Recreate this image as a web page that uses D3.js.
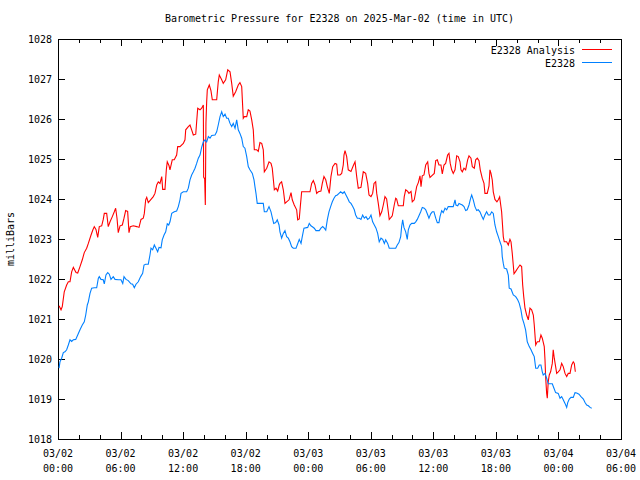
<!DOCTYPE html>
<html><head><meta charset="utf-8">
<script src="https://cdn.jsdelivr.net/npm/d3@7"></script>
<style>
html,body{margin:0;padding:0;background:#fff;}
svg text{font-family:"DejaVu Sans Mono","Liberation Mono",monospace;font-size:10px;fill:#000;}
</style></head><body>
<svg id="chart" width="640" height="480"></svg>
<script>
// ---- data (hours after 2025-03-02 00:00 UTC, pressure in mbar) ----
const titleText = "Barometric Pressure for E2328 on 2025-Mar-02 (time in UTC)";
const yLabel = "milliBars";
const seriesNames = ["E2328 Analysis", "E2328"];
const yTicks = [1018,1019,1020,1021,1022,1023,1024,1025,1026,1027,1028];

const analysisHours = [0.10,0.29,0.41,0.60,0.83,0.99,1.15,1.31,1.47,1.73,1.89,2.11,2.33,2.52,2.75,2.91,3.17,3.33,3.48,3.64,3.81,3.96,4.19,4.34,4.44,4.67,4.82,4.99,5.21,5.40,5.53,5.66,5.78,5.95,6.17,6.33,6.49,6.68,6.81,6.93,7.22,7.55,7.77,7.96,8.18,8.28,8.41,8.51,8.66,8.92,9.14,9.30,9.47,9.62,9.78,9.95,10.04,10.26,10.39,10.48,10.65,10.74,10.96,11.15,11.38,11.48,11.70,12.02,12.18,12.25,12.50,12.66,12.82,12.98,13.21,13.30,13.40,13.62,13.78,13.94,13.97,14.07,14.13,14.19,14.26,14.32,14.51,14.67,14.80,15.22,15.37,15.47,15.70,15.85,16.08,16.28,16.50,16.66,16.81,17.04,17.29,17.45,17.62,17.77,17.87,18.10,18.25,18.41,18.58,18.73,18.83,19.06,19.21,19.37,19.54,19.69,19.79,20.02,20.24,20.43,20.55,20.75,20.91,21.07,21.22,21.29,21.45,21.61,21.77,21.93,22.16,22.35,22.47,22.66,22.89,22.99,23.14,23.24,23.37,23.69,24.17,24.33,24.49,24.65,24.81,24.97,25.22,25.35,25.51,25.68,25.83,26.02,26.18,26.35,26.57,26.73,26.83,27.05,27.21,27.36,27.43,27.53,27.69,27.84,28.10,28.32,28.49,28.65,28.80,29.06,29.28,29.51,29.70,29.83,30.02,30.18,30.31,30.47,30.57,30.72,30.88,31.05,31.20,31.36,31.52,31.68,31.77,31.94,32.06,32.25,32.39,32.48,32.64,33.12,33.21,33.35,33.54,33.66,33.86,33.98,34.17,34.40,34.56,34.72,34.82,34.94,35.10,35.27,35.46,35.58,35.68,35.84,36.09,36.23,36.38,36.54,36.73,36.86,37.02,37.18,37.37,37.50,37.62,37.76,37.91,38.08,38.24,38.39,38.56,38.65,38.78,38.94,39.10,39.29,39.42,39.61,39.74,39.93,40.06,40.22,40.38,40.50,40.69,40.86,40.95,41.17,41.34,41.43,41.53,41.65,41.75,41.91,42.10,42.23,42.36,42.55,42.71,42.80,43.03,43.19,43.35,43.45,43.57,43.74,43.90,44.09,44.31,44.47,44.57,44.67,44.79,44.95,45.11,45.27,45.43,45.59,45.68,45.82,45.97,46.16,46.32,46.45,46.64,46.71,46.77,46.87,46.93,47.02,47.12,47.25,47.41,47.50,47.60,47.73,47.83,47.98,48.15,48.31,48.46,48.63,48.79,48.94,49.11,49.27,49.42,49.52,49.62];
const analysisValues = [1021.33,1021.23,1021.31,1021.68,1021.85,1021.93,1021.93,1022.18,1022.29,1022.16,1022.15,1022.31,1022.48,1022.66,1022.77,1022.89,1023.10,1023.22,1023.31,1023.24,1023.04,1023.31,1023.33,1023.49,1023.64,1023.64,1023.31,1023.43,1023.56,1023.68,1023.77,1023.52,1023.16,1023.33,1023.35,1023.52,1023.71,1023.69,1023.16,1023.31,1023.33,1023.31,1023.29,1023.49,1023.52,1023.64,1023.98,1024.04,1023.91,1023.99,1024.06,1024.14,1024.35,1024.43,1024.39,1024.56,1024.24,1024.24,1024.73,1024.93,1024.83,1024.73,1024.98,1024.98,1025.10,1025.31,1025.31,1025.39,1025.48,1025.73,1025.81,1025.85,1025.73,1025.60,1025.62,1025.93,1026.27,1026.23,1026.27,1026.35,1024.55,1024.50,1023.85,1025.90,1026.43,1026.73,1026.85,1026.71,1026.48,1026.48,1026.93,1027.10,1026.98,1026.89,1026.98,1027.23,1027.18,1026.89,1026.57,1026.68,1026.85,1026.91,1026.81,1026.02,1026.06,1026.06,1026.23,1026.20,1025.98,1025.73,1025.23,1025.23,1025.19,1025.41,1025.39,1025.23,1024.68,1024.77,1024.93,1024.89,1024.77,1024.23,1024.27,1024.20,1024.35,1024.39,1024.43,1024.23,1023.89,1023.93,1023.98,1024.16,1023.98,1023.85,1023.73,1023.48,1023.50,1023.81,1024.18,1024.18,1024.18,1024.39,1024.46,1024.35,1024.14,1024.18,1024.20,1024.39,1024.56,1024.48,1024.31,1024.14,1024.56,1024.81,1024.89,1024.87,1024.60,1024.60,1024.64,1024.85,1025.10,1025.21,1025.06,1024.73,1024.69,1024.83,1024.93,1024.56,1024.27,1024.29,1024.68,1024.64,1024.39,1024.10,1024.06,1024.14,1024.39,1024.43,1024.14,1023.89,1023.58,1023.68,1023.85,1024.06,1024.00,1023.68,1023.49,1023.54,1023.58,1023.85,1024.02,1024.00,1023.83,1023.83,1024.06,1024.23,1024.19,1024.14,1024.19,1023.93,1023.98,1024.31,1024.41,1024.58,1024.31,1024.58,1024.60,1024.85,1024.93,1024.64,1024.54,1024.58,1024.64,1024.96,1024.98,1024.85,1024.85,1024.63,1024.85,1024.89,1025.10,1025.14,1024.89,1024.73,1024.64,1024.73,1025.08,1025.06,1024.93,1024.73,1024.68,1024.77,1024.73,1024.98,1025.08,1025.02,1024.81,1024.77,1024.98,1025.02,1024.96,1024.73,1024.52,1024.39,1024.14,1024.14,1024.33,1024.73,1024.64,1024.48,1024.18,1023.99,1023.93,1023.98,1024.05,1023.68,1023.06,1022.93,1022.93,1022.85,1022.99,1022.93,1022.64,1022.13,1022.19,1022.27,1022.35,1022.31,1021.85,1021.56,1021.27,1021.10,1020.98,1021.27,1021.23,1021.10,1020.85,1020.35,1020.43,1020.43,1020.60,1020.52,1020.31,1019.98,1019.56,1019.14,1019.02,1019.43,1019.60,1019.68,1019.89,1020.23,1020.02,1019.81,1019.64,1019.68,1019.73,1019.89,1019.81,1019.64,1019.56,1019.64,1019.64,1019.85,1019.93,1019.89,1019.68];

const stationHours = [0.10,0.19,0.35,0.51,0.67,0.83,0.99,1.15,1.31,1.47,1.70,1.89,2.11,2.33,2.52,2.66,2.81,2.91,3.07,3.23,3.48,3.71,3.87,3.96,4.12,4.34,4.44,4.60,4.77,4.92,5.08,5.30,5.47,5.78,6.04,6.21,6.33,6.52,6.74,7.00,7.16,7.32,7.48,7.70,7.93,8.12,8.25,8.41,8.66,8.82,8.92,9.08,9.24,9.40,9.56,9.69,9.88,10.00,10.17,10.33,10.48,10.62,10.74,10.91,11.15,11.38,11.54,11.70,11.80,12.02,12.34,12.50,12.66,12.82,12.98,13.14,13.30,13.46,13.62,13.78,13.94,14.10,14.26,14.42,14.58,14.74,15.06,15.22,15.37,15.54,15.70,15.85,16.02,16.18,16.33,16.50,16.66,16.81,16.98,17.14,17.29,17.45,17.62,17.77,17.93,18.10,18.25,18.41,18.64,18.80,18.89,18.99,19.11,19.69,19.79,20.02,20.24,20.43,20.55,20.69,20.88,21.03,21.20,21.29,21.45,21.61,21.77,21.93,22.09,22.25,22.41,22.57,22.83,22.99,23.14,23.31,23.43,23.59,23.95,24.10,24.26,24.43,24.58,24.74,25.06,25.22,25.39,25.54,25.68,25.83,25.99,26.15,26.31,26.47,26.63,26.79,26.95,27.11,27.31,27.46,27.62,27.78,27.94,28.10,28.27,28.42,28.55,28.71,28.90,29.06,29.22,29.38,29.54,29.70,29.86,30.02,30.18,30.34,30.50,30.66,30.81,30.98,31.14,31.30,31.43,31.62,31.77,31.84,32.16,32.39,32.54,32.70,32.87,32.96,33.06,33.18,33.35,33.50,33.60,33.76,33.92,34.17,34.31,34.46,34.62,34.79,34.94,35.13,35.27,35.42,35.58,35.75,35.90,36.06,36.23,36.38,36.54,36.64,36.80,36.95,37.12,37.28,37.43,37.91,38.08,38.17,38.34,38.46,38.62,38.78,38.94,39.10,39.25,39.42,39.58,39.68,39.83,39.99,40.16,40.31,40.47,40.63,40.79,40.95,41.11,41.27,41.43,41.60,41.75,41.91,42.07,42.23,42.39,42.55,42.61,42.71,42.80,43.03,43.19,43.28,43.45,43.67,43.90,44.09,44.24,44.40,44.53,44.69,44.85,45.01,45.20,45.37,45.53,45.68,45.82,46.01,46.16,46.32,46.45,46.54,46.71,46.87,47.02,47.41,47.57,47.73,47.98,48.15,48.31,48.46,48.63,48.79,48.89,49.04,49.20,49.42,49.59,49.75,49.97,50.16,50.39,50.55,50.71,50.87,51.03,51.19];
const stationValues = [1019.77,1019.93,1020.02,1020.16,1020.18,1020.23,1020.35,1020.48,1020.44,1020.48,1020.49,1020.60,1020.73,1020.85,1020.93,1021.10,1021.35,1021.43,1021.64,1021.77,1021.78,1021.78,1022.02,1022.06,1021.99,1021.98,1021.88,1022.10,1022.16,1022.12,1021.99,1022.06,1021.99,1021.98,1021.98,1021.89,1022.06,1021.99,1021.96,1021.88,1021.87,1021.78,1021.87,1021.93,1022.06,1022.14,1022.35,1022.37,1022.37,1022.60,1022.77,1022.73,1022.85,1022.77,1022.68,1022.79,1022.78,1022.98,1023.10,1023.18,1023.38,1023.35,1023.43,1023.64,1023.68,1023.70,1023.81,1023.98,1024.14,1024.18,1024.18,1024.27,1024.48,1024.60,1024.68,1024.77,1024.89,1025.02,1025.10,1025.29,1025.43,1025.48,1025.43,1025.56,1025.52,1025.59,1025.60,1025.68,1025.85,1026.06,1026.18,1026.06,1026.12,1026.02,1026.02,1025.89,1025.81,1025.89,1025.77,1025.98,1025.73,1025.64,1025.52,1025.31,1025.27,1025.06,1024.81,1024.73,1024.64,1024.48,1024.31,1024.14,1023.89,1023.89,1023.68,1023.68,1023.81,1023.68,1023.54,1023.39,1023.41,1023.48,1023.35,1023.18,1023.02,1023.14,1023.21,1023.06,1023.02,1022.93,1022.81,1022.77,1022.77,1022.88,1022.99,1022.89,1023.06,1023.27,1023.29,1023.39,1023.33,1023.30,1023.27,1023.21,1023.21,1023.27,1023.31,1023.27,1023.22,1023.48,1023.68,1023.81,1023.93,1024.02,1024.08,1024.10,1024.14,1024.18,1024.14,1024.18,1024.10,1024.02,1023.93,1023.89,1023.81,1023.73,1023.60,1023.52,1023.52,1023.49,1023.60,1023.52,1023.56,1023.49,1023.52,1023.60,1023.43,1023.35,1023.27,1023.14,1022.93,1023.02,1022.99,1022.89,1022.98,1022.89,1022.77,1022.77,1022.77,1022.77,1022.85,1022.91,1023.06,1023.31,1023.48,1023.29,1023.18,1022.99,1023.23,1023.35,1023.39,1023.39,1023.43,1023.49,1023.58,1023.68,1023.79,1023.77,1023.73,1023.63,1023.52,1023.63,1023.68,1023.68,1023.52,1023.41,1023.41,1023.56,1023.71,1023.66,1023.77,1023.73,1023.81,1023.81,1023.98,1023.85,1023.83,1023.89,1023.87,1023.85,1023.81,1023.71,1023.73,1023.85,1024.02,1024.10,1023.98,1023.81,1023.71,1023.73,1023.68,1023.58,1023.49,1023.60,1023.68,1023.60,1023.60,1023.68,1023.64,1023.35,1023.18,1023.06,1022.93,1022.81,1022.56,1022.39,1022.27,1022.25,1022.10,1021.77,1021.75,1021.60,1021.56,1021.48,1021.39,1021.23,1021.02,1020.89,1020.73,1020.43,1020.31,1020.23,1020.14,1020.06,1019.77,1019.77,1019.85,1019.85,1019.68,1019.60,1019.64,1019.52,1019.38,1019.38,1019.27,1019.16,1019.14,1019.02,1019.06,1018.98,1018.89,1018.79,1018.91,1019.00,1019.04,1019.04,1019.16,1019.15,1019.12,1019.06,1019.00,1018.91,1018.85,1018.83,1018.79,1018.77];

const seriesColors = ["#ff0000", "#0080ff"];

// ---- layout ----
const M = {left: 58, right: 621, top: 39, bottom: 439};
const t0 = Date.UTC(2025, 2, 2, 0, 0);
const t1 = Date.UTC(2025, 2, 4, 6, 0);
const toDate = h => new Date(t0 + h * 3600e3);

const svg = d3.select("#chart");
const x = d3.scaleUtc().domain([new Date(t0), new Date(t1)]).range([M.left, M.right]);
const y = d3.scaleLinear().domain([1018, 1028]).range([M.bottom, M.top]);

const majorTicks = d3.utcHour.every(6).range(new Date(t0), new Date(t1 + 1));
const minorTicks = d3.utcHour.every(2).range(new Date(t0), new Date(t1 + 1));

const g = svg.append("g").attr("shape-rendering", "crispEdges");
const noDomain = s => s.select(".domain").remove();

// x ticks (bottom and top, inward)
g.append("g").attr("transform", `translate(0,${M.bottom})`).call(d3.axisBottom(x).tickValues(minorTicks).tickSize(-4).tickFormat("")).call(noDomain);
g.append("g").attr("transform", `translate(0,${M.top})`).call(d3.axisTop(x).tickValues(minorTicks).tickSize(-4).tickFormat("")).call(noDomain);
g.append("g").attr("transform", `translate(0,${M.bottom})`).call(d3.axisBottom(x).tickValues(majorTicks).tickSize(-7).tickFormat("")).call(noDomain);
g.append("g").attr("transform", `translate(0,${M.top})`).call(d3.axisTop(x).tickValues(majorTicks).tickSize(-7).tickFormat("")).call(noDomain);

// y ticks (left and right, inward)
g.append("g").attr("transform", `translate(${M.left},0)`).call(d3.axisLeft(y).tickValues(yTicks).tickSize(-7).tickFormat("")).call(noDomain);
g.append("g").attr("transform", `translate(${M.right},0)`).call(d3.axisRight(y).tickValues(yTicks).tickSize(-7).tickFormat("")).call(noDomain);

g.selectAll(".tick line").attr("stroke", "#000");

// y tick labels
const yl = svg.append("g");
yTicks.forEach(v => {
  yl.append("text").attr("x", M.left - 6).attr("y", y(v) + 4).attr("text-anchor", "end").text(d3.format("d")(v));
});

// x tick labels (two lines)
const fmtD = d3.utcFormat("%m/%d"), fmtH = d3.utcFormat("%H:%M");
majorTicks.forEach(d => {
  const t = svg.append("text").attr("x", x(d)).attr("y", M.bottom + 18).attr("text-anchor", "middle");
  t.append("tspan").attr("x", x(d)).text(fmtD(d));
  t.append("tspan").attr("x", x(d)).attr("dy", 14.5).text(fmtH(d));
});

// series lines
const line = d3.line().x(d => x(d[0])).y(d => y(d[1]));
const series = [
  analysisHours.map((h, i) => [toDate(h), analysisValues[i]]),
  stationHours.map((h, i) => [toDate(h), stationValues[i]])
];
series.forEach((s, i) => {
  svg.append("path").datum(s).attr("d", line).attr("fill", "none")
    .attr("stroke", seriesColors[i]).attr("stroke-width", 1.1);
});

// border
g.append("rect").attr("x", M.left).attr("y", M.top).attr("width", M.right - M.left).attr("height", M.bottom - M.top)
  .attr("fill", "none").attr("stroke", "#000").attr("stroke-width", 1);

// title
svg.append("text").attr("x", (M.left + M.right) / 2).attr("y", 22).attr("text-anchor", "middle").text(titleText);

// y label
svg.append("text").attr("transform", `translate(14,${(M.top + M.bottom) / 2}) rotate(-90)`).attr("text-anchor", "middle").text(yLabel);

// legend
seriesNames.forEach((n, i) => {
  const ly = 49.5 + i * 13;
  svg.append("text").attr("x", 575).attr("y", ly + 4).attr("text-anchor", "end").text(n);
  svg.append("line").attr("x1", 582).attr("x2", 612).attr("y1", ly).attr("y2", ly)
    .attr("stroke", seriesColors[i]).attr("stroke-width", 1).attr("shape-rendering", "crispEdges");
});
</script>
</body></html>
